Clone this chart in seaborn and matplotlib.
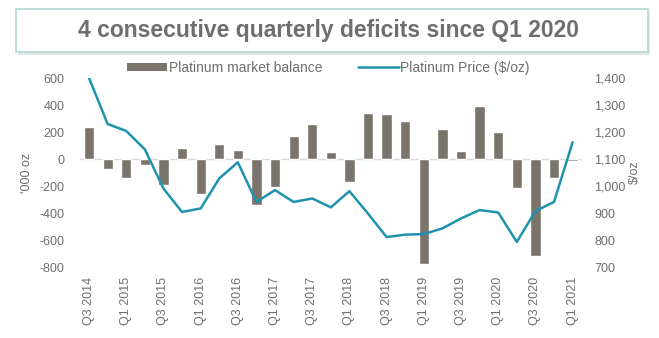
import numpy as np
import pandas as pd
import matplotlib
matplotlib.use("Agg")
import matplotlib.pyplot as plt
from matplotlib.patches import FancyBboxPatch, Patch
from matplotlib.lines import Line2D
import seaborn as sns

# Quarterly platinum market balance ('000 oz) and average price ($/oz)
quarters = [
    "Q3 2014", "Q4 2014",
    "Q1 2015", "Q2 2015", "Q3 2015", "Q4 2015",
    "Q1 2016", "Q2 2016", "Q3 2016", "Q4 2016",
    "Q1 2017", "Q2 2017", "Q3 2017", "Q4 2017",
    "Q1 2018", "Q2 2018", "Q3 2018", "Q4 2018",
    "Q1 2019", "Q2 2019", "Q3 2019", "Q4 2019",
    "Q1 2020", "Q2 2020", "Q3 2020", "Q4 2020",
    "Q1 2021",
]
balance = [
    235, -75,
    -140, -45, -190, 80,
    -260, 110, 70, -340,
    -205, 170, 260, 50,
    -168, 340, 332, 285,
    -780, 223, 62, 394,
    203, -213, -721, -139,
    -12,
]
price = [
    1400, 1230,
    1204, 1136, 991, 904,
    917, 1028, 1088, 941,
    985, 941, 954, 921,
    981, 898, 811, 820,
    822, 843, 880, 911,
    902, 793, 907, 941,
    1162,
]
left_ticks = [-800, -600, -400, -200, 0, 200, 400, 600]
right_ticks = [700, 800, 900, 1000, 1100, 1200, 1300, 1400]

df = pd.DataFrame({"quarter": quarters, "balance": balance, "price": price})
df["pos"] = np.arange(len(df))

sns.set_style("white")
plt.rcParams["font.family"] = ["Liberation Sans", "DejaVu Sans"]

bar_color = "#7b746b"
line_color = "#1f93ae"
text_color = "#6e6e6e"

fig = plt.figure(figsize=(6.59, 3.38), dpi=100)
ax = fig.add_axes([0.121, 0.210, 0.762, 0.559])

sns.barplot(data=df, x="pos", y="balance", color=bar_color, width=0.55,
            saturation=1, ax=ax, native_scale=False)
ax.axhline(0, color="#d9d9d9", lw=1, zorder=0)
ax.set_ylim(-800, 600)
ax.set_xlim(-0.5, len(df) - 0.5)
ax.set_yticks(left_ticks)
ax.set_yticklabels([f"{t}" for t in left_ticks])
ax.set_xticks(df["pos"][::2])
ax.set_xticklabels(df["quarter"][::2], rotation=90)
ax.set_xlabel("")
ax.set_ylabel("'000 oz", color=text_color, fontsize=9, labelpad=5)

ax2 = ax.twinx()
sns.lineplot(data=df, x="pos", y="price", color=line_color, lw=1.8,
             ax=ax2, sort=False)
ax2.set_ylim(700, 1400)
ax2.set_yticks(right_ticks)
ax2.set_yticklabels([f"{t:,}" for t in right_ticks])
ax2.set_ylabel("$/oz", color=text_color, fontsize=9, rotation=90, labelpad=2)
ax2.set_xlim(-0.5, len(df) - 0.5)

for a in (ax, ax2):
    for s in a.spines.values():
        s.set_visible(False)
    a.tick_params(axis="both", length=0, colors=text_color, labelsize=9)
ax.tick_params(axis="x", pad=7)
ax.tick_params(axis="y", pad=11)
ax2.tick_params(axis="y", pad=9)

handles = [Patch(facecolor=bar_color, edgecolor="none"),
           Line2D([0], [0], color=line_color, lw=1.8)]
fig.legend(handles, ["Platinum market balance", "Platinum Price ($/oz)"],
           loc="center", bbox_to_anchor=(0.498, 0.80), ncol=2, frameon=False,
           fontsize=10, labelcolor=text_color, handlelength=2.9,
           handleheight=0.5, handletextpad=0.1, columnspacing=2.6)

# Headline in a framed box
shadow = FancyBboxPatch((0.027, 0.838), 0.96, 0.128, boxstyle="square,pad=0",
                        transform=fig.transFigure, facecolor="#e6e6e6",
                        edgecolor="none")
box = FancyBboxPatch((0.024, 0.845), 0.96, 0.128, boxstyle="square,pad=0",
                     transform=fig.transFigure, facecolor="white",
                     edgecolor="#b5dbd5", lw=1.3)
fig.patches.extend([shadow, box])
fig.text(0.499, 0.909, "4 consecutive quarterly deficits since Q1 2020",
         ha="center", va="center", fontsize=16.5, fontweight="bold",
         color="#6e6e6e")

fig.savefig("out.png", dpi=100, facecolor="white")
